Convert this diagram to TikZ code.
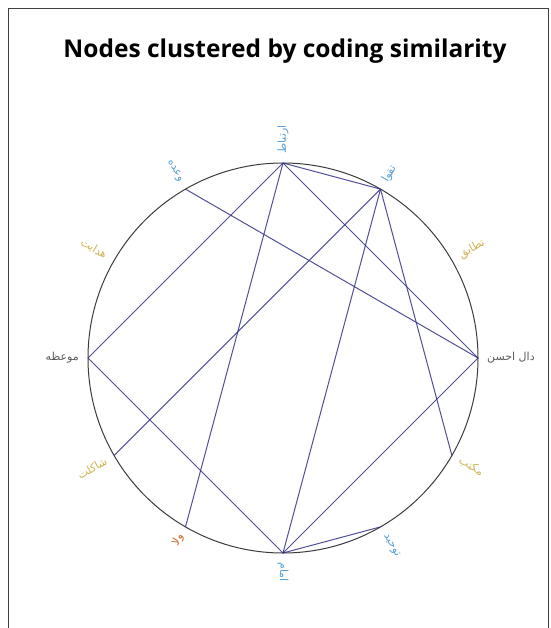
\documentclass[tikz,border=0pt]{standalone}
\usepackage{fontspec}
\setmainfont{Open Sans}
\newfontfamily\arabicfont[Script=Arabic]{DejaVu Sans}
\TeXXeTstate=1
\definecolor{edgec}{RGB}{50,50,135}
\definecolor{ringc}{RGB}{60,60,60}
\definecolor{labblue}{RGB}{90,160,215}
\definecolor{labyel}{RGB}{205,180,80}
\definecolor{labred}{RGB}{210,100,40}
\definecolor{labgray}{RGB}{90,90,90}
\tikzset{
  edge/.style={draw=edgec, line width=1pt, opacity=0.85},
  ring/.style={draw=ringc, line width=1pt},
  lab/.style={font=\arabicfont\fontsize{11}{12}\selectfont, inner sep=0pt},
  labR/.style={lab, anchor=west},
  labL/.style={lab, anchor=east},
  frame/.style={draw=black!75, line width=0.8pt},
  titletext/.style={font=\bfseries\fontsize{24.5}{27}\selectfont}
}
\begin{document}
\begin{tikzpicture}[x=1pt,y=-1pt]
\useasboundingbox (0,0) rectangle (550,628);
\fill[white] (0,0) rectangle (550,628);
\draw[frame] (8.5,628) -- (8.5,8.5) -- (548.5,8.5) -- (548.5,628);
\node[titletext] (title) at (285,51) {Nodes clustered by coding similarity};
\begin{scope}[shift={(283,358)}, y=1pt]
  \draw[ring] (0,0) circle (195);
  \foreach \a/\n in {90/a,60/b,30/c,0/d,-30/e,-60/f,-90/g,-120/h,-150/i,180/j,150/k,120/l}
    \coordinate (\n) at (\a:195);
  % labels
  \node[labR, rotate=90, text=labblue] (la) at (90:204) {\beginR ارتباط\endR};
  \node[labR, rotate=60, text=labblue] (lb) at (60:204) {\beginR تقوا\endR};
  \node[labR, rotate=30, text=labyel] (lc) at (30:204) {\beginR تطابق\endR};
  \node[labR, rotate=0, text=labgray] (ld) at (0:204) {\beginR دال احسن\endR};
  \node[labR, rotate=-30, text=labyel] (le) at (-30:204) {\beginR مکتب\endR};
  \node[labR, rotate=-60, text=labblue] (lf) at (-60:204) {\beginR توحید\endR};
  \node[labR, rotate=-90, text=labblue] (lg) at (-90:204) {\beginR امام\endR};
  \node[labL, rotate=60, text=labred] (lh) at (-120:204) {\beginR ولا\endR};
  \node[labL, rotate=30, text=labyel] (li) at (-150:204) {\beginR شاکلت\endR};
  \node[labL, rotate=0, text=labgray] (lj) at (180:204) {\beginR موعظه\endR};
  \node[labL, rotate=-30, text=labyel] (lk) at (150:204) {\beginR هدایت\endR};
  \node[labL, rotate=-60, text=labblue] (ll) at (120:204) {\beginR وعده\endR};
  % edges
  \draw[edge] (a) -- (j);
  \draw[edge] (a) -- (d);
  \draw[edge] (a) -- (h);
  \draw[edge] (a) -- (b);
  \draw[edge] (l) -- (d);
  \draw[edge] (b) -- (i);
  \draw[edge] (b) -- (g);
  \draw[edge] (b) -- (e);
  \draw[edge] (j) -- (g);
  \draw[edge] (g) -- (d);
  \draw[edge] (g) -- (f);
\end{scope}
\end{tikzpicture}
\end{document}
